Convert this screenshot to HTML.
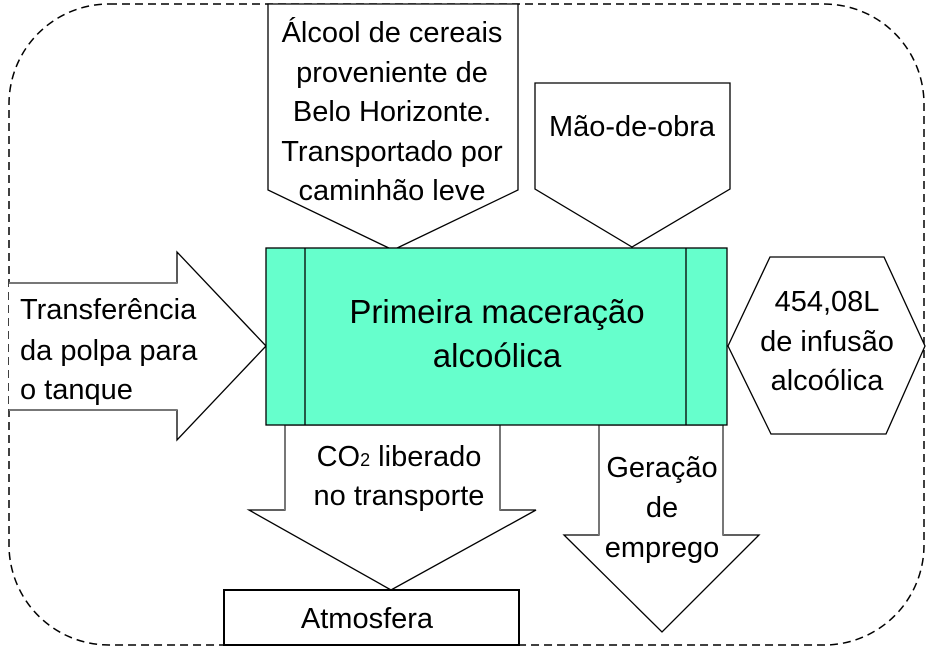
<!DOCTYPE html>
<html><head><meta charset="utf-8"><style>
body{margin:0;background:#fff;}
svg text{font-family:"Liberation Sans",sans-serif;font-size:29px;fill:#000;}
</style></head><body>
<svg width="928" height="658" viewBox="0 0 928 658" xmlns="http://www.w3.org/2000/svg">
<rect x="9" y="4" width="915" height="641" rx="100" ry="100" fill="none" stroke="#000" stroke-width="1.5" stroke-dasharray="8,5"/>
<polygon points="268,4 518,4 518,190 393,250 268,190" fill="#fff" stroke="#000" stroke-width="1.3"/>
<polygon points="535,83 730,83 730,189 632,247 535,189" fill="#fff" stroke="#000" stroke-width="1.3"/>
<polygon points="9,283 177,283 177,252 266,346 177,440 177,410 9,410" fill="#fff" stroke="none"/>
<polyline points="9,283 177,283 177,252 266,346 177,440 177,410 9,410" fill="none" stroke="#000" stroke-width="1.3"/>
<line x1="9" y1="283" x2="177" y2="283" stroke="#777" stroke-width="2"/>
<line x1="9" y1="410" x2="177" y2="410" stroke="#777" stroke-width="2"/>
<polygon points="728,346 770,257 884,257 925,346 886,434 771,434" fill="#fff" stroke="#000" stroke-width="1.3"/>
<polygon points="285,425 500,425 500,510 536,510 391,590 249,510 285,510" fill="#fff" stroke="#000" stroke-width="1.3"/>
<line x1="285" y1="425" x2="285" y2="510" stroke="#777" stroke-width="2"/>
<line x1="500" y1="425" x2="500" y2="510" stroke="#777" stroke-width="2"/>
<polygon points="599,425 723,425 723,535 759,535 662,632 564,535 599,535" fill="#fff" stroke="#000" stroke-width="1.3"/>
<line x1="599" y1="425" x2="599" y2="535" stroke="#777" stroke-width="2"/>
<line x1="723" y1="425" x2="723" y2="535" stroke="#777" stroke-width="2"/>
<rect x="266" y="248" width="461" height="177" fill="#66FFCC" stroke="#000" stroke-width="1.3"/>
<line x1="305" y1="248" x2="305" y2="425" stroke="#000" stroke-width="1.3"/>
<line x1="686" y1="248" x2="686" y2="425" stroke="#000" stroke-width="1.3"/>
<rect x="224" y="590" width="295" height="55" fill="#fff" stroke="#000" stroke-width="2"/>
<g text-anchor="middle">
<text x="392" y="42">Álcool de cereais</text>
<text x="392" y="82">proveniente de</text>
<text x="392" y="121">Belo Horizonte.</text>
<text x="392" y="161">Transportado por</text>
<text x="392" y="200">caminhão leve</text>
<text x="632" y="136">Mão-de-obra</text>
<text x="497" y="323" style="font-size:33px">Primeira maceração</text>
<text x="497" y="367" style="font-size:33px">alcoólica</text>
<text x="827" y="311">454,08L</text>
<text x="827" y="351">de infusão</text>
<text x="827" y="390">alcoólica</text>
<text x="399" y="466">CO<tspan style="font-size:18px">2</tspan>  liberado</text>
<text x="399" y="505">no transporte</text>
<text x="662" y="477">Geração</text>
<text x="662" y="517">de</text>
<text x="662" y="557">emprego</text>
<text x="367" y="628">Atmosfera</text>
</g>
<g>
<text x="20" y="319">Transferência</text>
<text x="20" y="360">da polpa para</text>
<text x="20" y="399">o tanque</text>
</g>
</svg>
</body></html>
